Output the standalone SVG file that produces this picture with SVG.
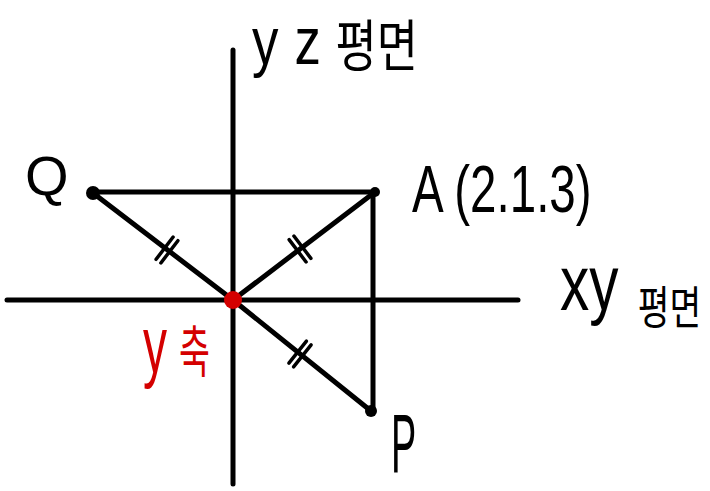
<svg xmlns="http://www.w3.org/2000/svg" width="710" height="491" viewBox="0 0 710 491">
<style>
.ln{stroke:#000;stroke-width:5;stroke-linecap:round;fill:none}
.tk{stroke:#000;stroke-width:3.5;stroke-linecap:round;fill:none}
.lbl{font-family:"Liberation Sans","Noto Sans CJK KR",sans-serif;fill:#000}
.kr{font-family:"Noto Sans CJK KR","Liberation Sans",sans-serif}
.red{fill:#d40000}
</style>
<rect width="710" height="491" fill="#fff"/>
<g id="axes">
<line class="ln" x1="233" y1="50" x2="233" y2="484"/>
<line class="ln" x1="7" y1="300" x2="518" y2="300"/>
</g>
<g id="connectors">
<line class="ln" x1="93" y1="192" x2="375" y2="192"/>
<line class="ln" x1="373" y1="192" x2="373" y2="411"/>
<line class="ln" x1="93" y1="193" x2="233" y2="300"/>
<line class="ln" x1="375" y1="192" x2="233" y2="300"/>
<line class="ln" x1="233" y1="300" x2="371" y2="411"/>
<g id="ticks">
<g transform="translate(167,250) rotate(37.4)">
<line class="tk" x1="-3" y1="-14" x2="-3" y2="14"/>
<line class="tk" x1="3" y1="-14" x2="3" y2="14"/>
</g>
<g transform="translate(300,249) rotate(-37.3)">
<line class="tk" x1="-3" y1="-14" x2="-3" y2="14"/>
<line class="tk" x1="3" y1="-14" x2="3" y2="14"/>
</g>
<g transform="translate(300,354) rotate(38.8)">
<line class="tk" x1="-3" y1="-14" x2="-3" y2="14"/>
<line class="tk" x1="3" y1="-14" x2="3" y2="14"/>
</g>
</g>
</g>
<g id="node-Q">
<circle cx="93" cy="193" r="7" fill="#000"/>
<text class="lbl" x="25" y="195" font-size="56">Q</text>
</g>
<g id="node-A">
<circle cx="375" cy="192" r="5" fill="#000"/>
<text class="lbl" transform="translate(412,212) scale(0.72,1)" font-size="66">A (2.1.3)</text>
</g>
<g id="node-P">
<circle cx="371" cy="411" r="6" fill="#000"/>
<text class="lbl" transform="translate(391,472) scale(0.45,1)" font-size="84">P</text>
</g>
<g id="node-O">
<circle cx="233" cy="300" r="9" fill="#d40000"/>
<text class="lbl red" transform="translate(143,372) scale(0.6,1)"><tspan font-size="80">y</tspan><tspan class="kr" dx="20" font-size="56">축</tspan></text>
</g>
<g id="label-yz">
<text class="lbl" transform="translate(252,64) scale(0.8,1)"><tspan font-size="66">y</tspan><tspan dx="20" font-size="66">z </tspan><tspan class="kr" dy="2" font-size="56">평면</tspan></text>
</g>
<g id="label-xy">
<text class="lbl" transform="translate(560,310) scale(0.75,1)"><tspan font-size="78">x</tspan><tspan font-size="78">y </tspan><tspan class="kr" dx="4" dy="14" font-size="46">평면</tspan></text>
</g>
</svg>
